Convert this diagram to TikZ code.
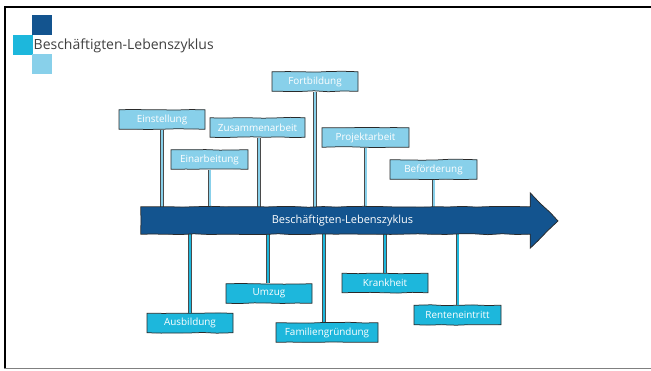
\documentclass[tikz,border=0pt]{standalone}
\usepackage{fontspec}
\setmainfont{Open Sans}
\usetikzlibrary{calc,decorations.pathmorphing}
\definecolor{darkblue}{HTML}{13548F}
\definecolor{cyanblue}{HTML}{1DB7DC}
\definecolor{lightblue}{HTML}{88D0EA}
\definecolor{titlegrey}{HTML}{404040}
\definecolor{outline}{HTML}{2A2A2A}
\tikzset{
  wobble/.style={decorate, decoration={random steps, segment length=14pt, amplitude=0.45pt}},
  signbase/.style={draw=outline, line width=0.75pt, text=white,
    minimum height=19.5pt, inner sep=1pt, font=\fontsize{9.9}{11}\selectfont,
    wobble},
  topsign/.style={signbase, fill=lightblue},
  botsign/.style={signbase, fill=cyanblue},
  toppost/.style={draw=outline!85, line width=0.8pt, double=lightblue, double distance=2pt},
  botpost/.style={draw=outline!85, line width=0.8pt, double=cyanblue, double distance=2pt},
  logosq/.style={minimum size=20pt, inner sep=0pt, draw=none}
}
\begin{document}
\begin{tikzpicture}[x=1pt,y=1pt]
\pgfmathsetseed{7}
\useasboundingbox (0,0) rectangle (651,-370);
% frame
\draw[black, line width=2.3pt] (4,-7) -- (651,-7);
\draw[black, line width=2pt] (5.2,-6) -- (5.2,-368);
\draw[gray, line width=1.2pt] (4.2,-368.4) -- (651,-368.4);
% logo
\node[logosq, fill=darkblue] (sq1) at (42,-25) {};
\node[logosq, fill=cyanblue] (sq2) at (23,-45) {};
\node[logosq, fill=lightblue] (sq3) at (42,-64) {};
\node[anchor=west, text=titlegrey, inner sep=0pt, font=\fontsize{14}{16}\selectfont] (title) at (33.5,-45.5) {Beschäftigten-Lebenszyklus};
% arrow body helper
\node[inner sep=0pt, minimum width=389pt, minimum height=27pt] (body) at (335.5,-220.5) {};
% top signs
\node[topsign, minimum width=86pt] (s1) at (162,-119.5) {Einstellung};
\node[topsign, minimum width=77pt] (s2) at (209.5,-159.5) {Einarbeitung};
\node[topsign, minimum width=95pt] (s3) at (257.5,-127.5) {Zusammenarbeit};
\node[topsign, minimum width=86pt] (s4) at (315,-81.5) {Fortbildung};
\node[topsign, minimum width=87pt] (s5) at (365.5,-137.5) {Projektarbeit};
\node[topsign, minimum width=87pt] (s6) at (433.5,-169.5) {Beförderung};
% bottom signs
\node[botsign, minimum width=86pt] (b1) at (190,-323) {Ausbildung};
\node[botsign, minimum width=86pt] (b2) at (269,-293.5) {Umzug};
\node[botsign, minimum width=102pt] (b3) at (327,-332.5) {Familiengründung};
\node[botsign, minimum width=86pt] (b4) at (385,-283) {Krankheit};
\node[botsign, minimum width=87pt] (b5) at (457.5,-315) {Renteneintritt};
% posts
\draw[toppost] (s1.south) -- (s1.south |- body.north);
\draw[toppost] (s2.south) -- (s2.south |- body.north);
\draw[toppost] ([xshift=1.5pt]s3.south) -- ([xshift=1.5pt]s3.south |- body.north);
\draw[toppost] (s4.south) -- (s4.south |- body.north);
\draw[toppost] (s5.south) -- (s5.south |- body.north);
\draw[toppost] (s6.south) -- (s6.south |- body.north);
\draw[botpost] (b1.north) -- (b1.north |- body.south);
\draw[botpost] ([xshift=-1pt]b2.north) -- ([xshift=-1pt]b2.north |- body.south);
\draw[botpost] ([xshift=-3pt]b3.north) -- ([xshift=-3pt]b3.north |- body.south);
\draw[botpost] (b4.north) -- (b4.north |- body.south);
\draw[botpost] (b5.north) -- (b5.north |- body.south);
% arrow
\draw[outline, line width=0.75pt, fill=darkblue, line join=miter, wobble]
  (body.north west) -- (body.north east) -- ++(0,14) -- (558,-221) -- ($(body.south east)+(0,-14)$) -- (body.south east) -- (body.south west) -- cycle;
\node[text=white, inner sep=0pt, font=\fontsize{11}{13}\selectfont] (lbl) at (342.5,-220.5) {Beschäftigten-Lebenszyklus};
\end{tikzpicture}
\end{document}
